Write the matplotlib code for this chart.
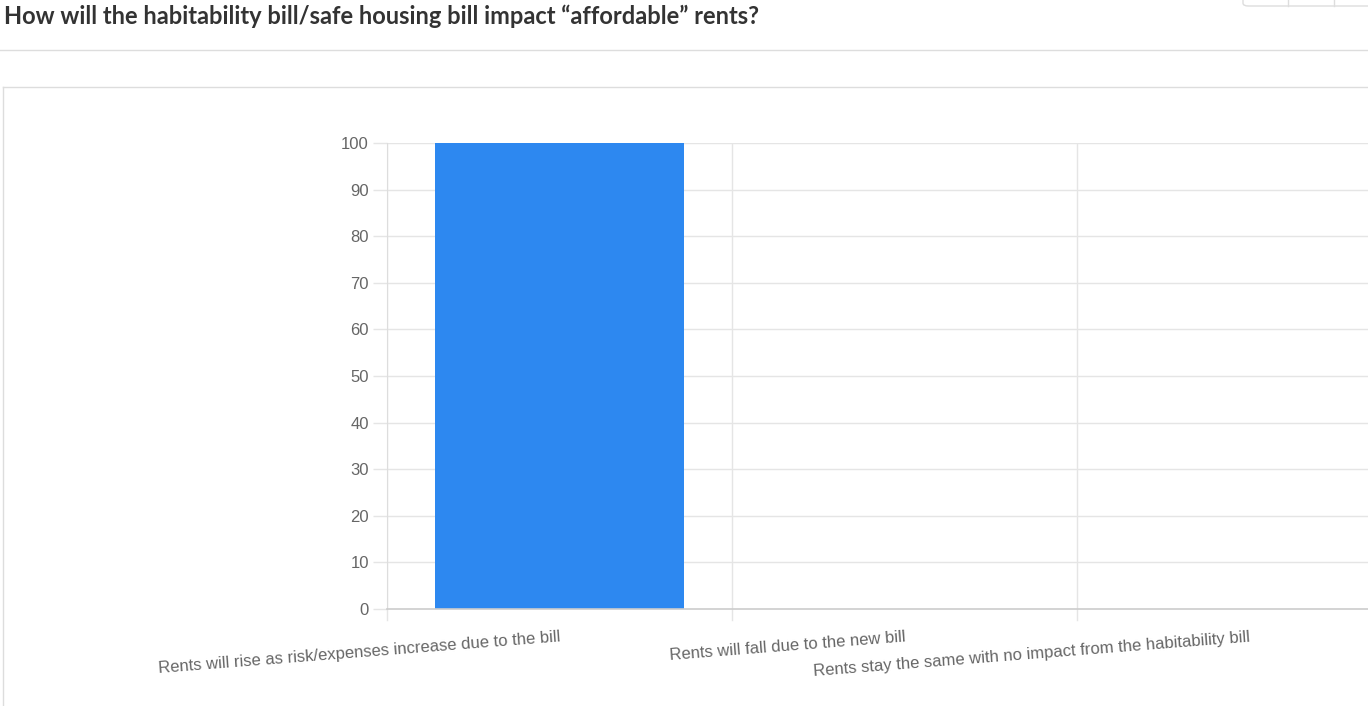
import matplotlib.pyplot as plt
from matplotlib.patches import FancyBboxPatch
from matplotlib.lines import Line2D

# Data
categories = ['Rents will rise as risk/expenses increase due to the bill',
              'Rents will fall due to the new bill',
              'Rents stay the same with no impact from the habitability bill']
values = [100, 0, 0]
y_ticks = [0, 10, 20, 30, 40, 50, 60, 70, 80, 90, 100]
title = 'How will the habitability bill/safe housing bill impact \u201caffordable\u201d rents?'

W, H = 1368, 706
fig = plt.figure(figsize=(W / 100, H / 100), dpi=100)

def fx(px):
    return px / W

def fy(py):
    return 1 - py / H

# page decoration
fig.text(fx(4), fy(16), title, fontsize=17, fontweight='bold', color='#333333',
         family='Lato', va='center', ha='left')
fig.add_artist(Line2D([0, 1], [fy(50), fy(50)], color='#dddddd', lw=1))
fig.add_artist(Line2D([fx(3), 1], [fy(87), fy(87)], color='#dddddd', lw=1))
fig.add_artist(Line2D([fx(3), fx(3)], [fy(87), 0], color='#dddddd', lw=1))
fig.add_artist(FancyBboxPatch((fx(1243), fy(6)), fx(1380 - 1243), fy(-10) - fy(6),
                              boxstyle='round,pad=0,rounding_size=0.004',
                              fc='white', ec='#dddddd', lw=1))
for bx in [1288, 1334]:
    fig.add_artist(Line2D([fx(bx), fx(bx)], [fy(6), 1], color='#dddddd', lw=1))

# axes
left, right, top, bottom = 387, 1368, 143, 609
cat_w = 345
ax = fig.add_axes([fx(left), fy(bottom), fx(right - left), fy(top) - fy(bottom)])
x = list(range(len(categories)))
ax.bar(x, values, width=0.72, color='#2d88f0', zorder=2)

ax.set_xlim(-0.5, -0.5 + (right - left) / cat_w)
ax.set_ylim(0, 100)
ax.set_yticks(y_ticks)
ax.set_yticklabels([str(v) for v in y_ticks], family='Liberation Sans',
                   fontsize=12, color='#666666')
ax.set_xticks(x)
ax.set_xticklabels(categories, family='Liberation Sans', fontsize=12,
                   color='#666666', rotation=4.5, ha='right',
                   rotation_mode='anchor')
ax.tick_params(axis='x', length=0, pad=15)
ax.tick_params(axis='y', length=10, color='#e5e5e5', width=1, pad=3)

for v in y_ticks[1:]:
    ax.axhline(v, color='#e5e5e5', lw=1, zorder=1)
for b in [-0.5, 0.5, 1.5]:
    ax.axvline(b, color='#e5e5e5', lw=1, zorder=1)
    ax.plot([b, b], [0, -2.4], color='#e5e5e5', lw=1, clip_on=False, zorder=1)

for s in ['top', 'right']:
    ax.spines[s].set_visible(False)
ax.spines['left'].set_color('#dddddd')
ax.spines['bottom'].set_color('#cccccc')
ax.spines['bottom'].set_linewidth(1.2)

fig.savefig('out.png', dpi=100)
